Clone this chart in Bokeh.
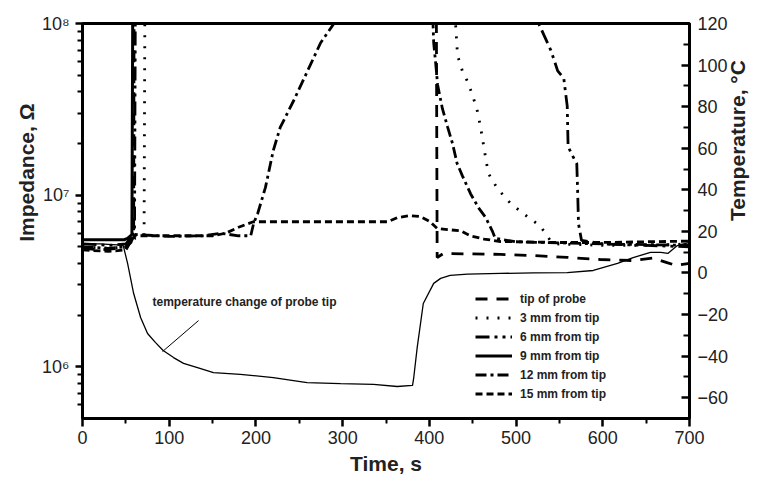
import math
from bokeh.plotting import figure
from bokeh.models import (Range1d, LinearScale, LinearAxis, FixedTicker, Legend,
                          LegendItem, Label, Title, CustomJSTickFormatter)
from bokeh.embed import file_html
from bokeh.resources import INLINE

# ---------------- data ----------------
x_major = [0, 100, 200, 300, 400, 500, 600, 700]
x_minor = [50, 150, 250, 350, 450, 550, 650]
z_major = [1e6, 1e7, 1e8]
z_minor = [6e5, 7e5, 8e5, 9e5,
           2e6, 3e6, 4e6, 5e6, 6e6, 7e6, 8e6, 9e6,
           2e7, 3e7, 4e7, 5e7, 6e7, 7e7, 8e7, 9e7]
temp_major = [-60, -40, -20, 0, 20, 40, 60, 80, 100, 120]
temp_minor = [-70, -50, -30, -10, 10, 30, 50, 70, 90, 110]

t_tip = [0, 20, 40, 50, 56, 59, 59.5, 408, 409, 416, 444, 482, 520, 559, 597, 635, 658, 674, 684, 700]
z_tip = [4.9e6, 4.8e6, 4.9e6, 5.0e6, 5.3e6, 6.0e6, 1.5e8, 1.5e8, 4.33e6, 4.57e6, 4.55e6, 4.52e6,
         4.45e6, 4.34e6, 4.22e6, 4.16e6, 4.3e6, 4.05e6, 3.9e6, 4.0e6]

t_3mm = [0, 30, 50, 60, 68, 71, 72, 428, 432.5, 438, 444, 450, 455.5, 459, 465, 468, 478.6,
         493.6, 513, 528, 540, 546, 600, 650, 700]
z_3mm = [5.0e6, 4.9e6, 5.0e6, 5.6e6, 5.7e6, 5.8e6, 1.5e8, 1.5e8, 6.5e7, 5.3e7, 4.6e7, 3.8e7,
         3.07e7, 2.5e7, 1.64e7, 1.34e7, 1.09e7, 8.95e6, 7.5e6, 6.6e6, 5.4e6, 5.2e6, 5.1e6, 5.1e6, 5.2e6]

t_6mm = [0, 30, 50, 55, 60, 61, 522, 526, 540, 548, 555, 559, 560, 565, 570, 571, 572, 575.5, 600, 650, 700]
z_6mm = [5.2e6, 5.1e6, 5.2e6, 5.6e6, 6.0e6, 1.5e8, 1.5e8, 1.0e8, 7.0e7, 5.3e7, 4.8e7, 3.3e7, 1.92e7,
         1.7e7, 1.53e7, 1.06e7, 6.8e6, 5.45e6, 5.2e6, 5.1e6, 5.0e6]

t_9mm = [0, 48, 52, 57, 58, 700]
z_9mm = [5.5e6, 5.5e6, 5.6e6, 5.9e6, 1.5e8, 1.5e8]

t_12mm = [0, 30, 50, 55, 60, 100, 140, 159, 180, 194, 197.5, 202, 211, 220, 228, 243.6, 259.6,
          274.5, 290, 300, 403, 405, 407, 409.5, 415, 421, 426.7, 432, 438, 447.5, 457, 465,
          472.5, 476, 500, 600, 700]
z_12mm = [5.0e6, 4.9e6, 5.0e6, 5.6e6, 5.9e6, 5.75e6, 5.8e6, 6.0e6, 5.8e6, 5.8e6, 6.9e6, 7.8e6,
          1.11e7, 1.82e7, 2.48e7, 3.56e7, 5.3e7, 7.7e7, 1.0e8, 1.5e8, 1.5e8, 7.7e7, 6.1e7, 4.4e7,
          3.2e7, 2.5e7, 2.0e7, 1.53e7, 1.30e7, 1.02e7, 8.4e6, 7.4e6, 6.2e6, 5.6e6, 5.35e6, 5.2e6, 5.1e6]

t_15mm = [0, 30, 50, 55, 60, 100, 150, 165, 180, 197, 250, 300, 352, 363, 378, 390, 401, 409,
          421, 436, 447, 463, 482, 550, 600, 650, 700]
z_15mm = [4.8e6, 4.7e6, 4.8e6, 5.3e6, 5.8e6, 5.8e6, 5.8e6, 6.0e6, 6.5e6, 7.0e6, 7.0e6, 7.0e6,
          7.0e6, 7.4e6, 7.6e6, 7.5e6, 7.0e6, 6.4e6, 6.3e6, 6.2e6, 5.8e6, 5.55e6, 5.37e6, 5.3e6,
          5.3e6, 5.35e6, 5.4e6]

t_temp = [0, 20, 40, 47, 52, 59, 67, 75, 84, 93, 105, 116.5, 132.6, 151, 182, 220, 259, 297.6,
          335.6, 363, 380.6, 382, 386, 393, 405, 413, 424, 444, 482, 520, 559, 589, 617, 635,
          655, 667, 675, 686, 700]
temp = [14, 14, 13.5, 13.2, 4.6, -9.9, -21.4, -29.1, -33.4, -37.3, -40.7, -43.5, -45.5, -47.9,
        -48.8, -50.3, -52.7, -53.2, -53.6, -54.6, -54.1, -50.3, -35.8, -14.7, -5, -2.6, -1.2,
        -0.6, -0.2, 0, 0.2, 1.2, 4.6, 7.4, 9.9, 9.9, 9.4, 13.2, 14.7]

labels = ["tip of probe", "3 mm from tip", "6 mm from tip", "9 mm from tip",
          "12 mm from tip", "15 mm from tip"]
annot_text = "temperature change of probe tip"
annot_pos = (80.7, -14.2)
annot_line = ([133.8, 92.3], [-22.9, -37.8])

FONT = "Liberation Sans"
TXT = "#222222"

# ---------------- figure ----------------
p = figure(frame_width=607, frame_height=395, y_axis_type="log",
           x_range=Range1d(0, 700), y_range=Range1d(5e5, 1e8),
           output_backend="svg", toolbar_location=None,
           min_border_left=82, min_border_right=68, min_border_top=23, min_border_bottom=62)
p.extra_y_ranges = {"temp": Range1d(-70, 120)}
p.extra_y_scales = {"temp": LinearScale()}

p.grid.visible = False
p.outline_line_color = "black"
p.outline_line_width = 3
p.background_fill_color = "white"
p.border_fill_color = "white"

xa = p.xaxis[0]
xa.ticker = FixedTicker(ticks=x_major, minor_ticks=x_minor)
ya = p.yaxis[0]
ya.ticker = FixedTicker(ticks=z_major, minor_ticks=z_minor)
ya.formatter = CustomJSTickFormatter(code="""
const e = Math.round(Math.log10(tick));
const sup = {'0':'\u2070','1':'\u00b9','2':'\u00b2','3':'\u00b3','4':'\u2074','5':'\u2075','6':'\u2076','7':'\u2077','8':'\u2078','9':'\u2079'};
return '10' + String(e).split('').map(c => sup[c]).join('');
""")

ra = LinearAxis(y_range_name="temp", ticker=FixedTicker(ticks=temp_major, minor_ticks=temp_minor))
p.add_layout(ra, "right")

for ax in (xa, ya, ra):
    ax.axis_line_width = 3
    ax.axis_line_color = "black"
    ax.major_tick_line_width = 2.5
    ax.minor_tick_line_width = 2
    ax.major_tick_line_color = "black"
    ax.minor_tick_line_color = "black"
    ax.major_label_text_font = FONT
    ax.major_label_text_font_size = "18px"
    ax.major_label_text_color = TXT
    ax.axis_label_text_font = FONT
    ax.axis_label_text_font_size = "21px"
    ax.axis_label_text_font_style = "bold"
    ax.axis_label_text_color = TXT

xa.major_tick_out = 8
xa.major_tick_in = 0
xa.minor_tick_out = 5
xa.minor_tick_in = 0
xa.major_label_standoff = 4
xa.axis_label = "Time, s"
xa.axis_label_standoff = 5

ya.major_tick_out = 7
ya.major_tick_in = 0
ya.minor_tick_out = 5
ya.minor_tick_in = 0
ya.major_label_standoff = 6

ra.major_tick_out = 0
ra.major_tick_in = 8
ra.minor_tick_out = 0
ra.minor_tick_in = 6
ra.major_label_standoff = 8
ra.axis_label = "Temperature, \u00b0C"
ra.axis_label_standoff = 6
try:
    ra.axis_label_orientation = math.pi / 2
except Exception:
    pass

# left axis title as a side-panel title placed toward the top
p.add_layout(Title(text="Impedance, \u03a9", align="right", offset=80, standoff=2,
                   text_font=FONT, text_font_size="21px", text_font_style="bold",
                   text_color=TXT), "left")

# ---------------- lines ----------------
styles = [
    dict(line_dash="12 9", line_width=2.8),
    dict(line_dash="2 9", line_width=2.8),
    dict(line_dash="14 5 3 5 3 5", line_width=2.8),
    dict(line_dash="solid", line_width=3),
    dict(line_dash="11 4 3 4", line_width=2.8),
    dict(line_dash="7 4", line_width=2.8),
]
series = [(t_tip, z_tip), (t_3mm, z_3mm), (t_6mm, z_6mm), (t_9mm, z_9mm),
          (t_12mm, z_12mm), (t_15mm, z_15mm)]
renderers = []
for (tt, zz), st in zip(series, styles):
    r = p.line(tt, zz, line_color="black", **st)
    renderers.append(r)

p.line(t_temp, temp, line_color="black", line_width=1.3, y_range_name="temp")
p.segment(x0=[annot_line[0][0]], y0=[annot_line[1][0]], x1=[annot_line[0][1]], y1=[annot_line[1][1]],
          line_color="black", line_width=1, y_range_name="temp")
p.add_layout(Label(x=annot_pos[0], y=annot_pos[1], y_range_name="temp", text=annot_text,
                   text_font=FONT, text_font_size="12px", text_font_style="bold",
                   text_baseline="middle", text_align="left", text_color=TXT))

legend = Legend(items=[LegendItem(label=l, renderers=[r]) for l, r in zip(labels, renderers)],
                location=(393, 17), padding=0, margin=0, spacing=4,
                glyph_width=37, glyph_height=15, label_height=15, label_standoff=8,
                label_text_font=FONT, label_text_font_size="12px", label_text_font_style="bold",
                label_text_color=TXT, border_line_color=None, background_fill_alpha=0)
p.add_layout(legend, "center")

open("out.html", "w").write(file_html(p, INLINE))
